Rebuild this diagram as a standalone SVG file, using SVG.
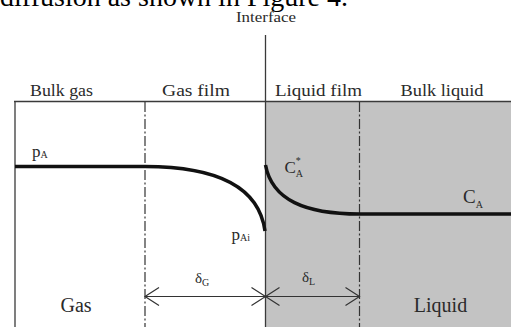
<svg xmlns="http://www.w3.org/2000/svg" width="511" height="327" viewBox="0 0 511 327">
<style>
text{font-family:"Liberation Serif","Times New Roman",serif;fill:#2a2a2a}
.frame{stroke:#3a3a3a;stroke-width:1.3;fill:none}
.dd{stroke:#333;stroke-width:1.2;stroke-dasharray:10,2.5,2,2.5;fill:none}
.prof{stroke:#111;stroke-width:3.5;fill:none;stroke-linecap:butt}
.dim{stroke:#333;stroke-width:1.2;fill:none}
.lab{font-size:17px;text-anchor:middle}
.big{font-size:20px;text-anchor:middle}
.sub{font-size:10px}
</style>
<defs>
<marker id="ah" viewBox="-15 -10 17 20" markerWidth="17" markerHeight="20" refX="0" refY="0" orient="auto-start-reverse" markerUnits="userSpaceOnUse">
<path d="M-14,-9 L0,0 L-14,9" stroke="#333" stroke-width="1.2" fill="none"/>
</marker>
</defs>
<text x="348" y="5.5" style="font-size:28px;text-anchor:end;fill:#000">diffusion as shown in Figure 4.</text>
<g id="liquid-region">
<rect x="265.5" y="101.5" width="246" height="226" fill="#c3c3c3"/>
</g>
<g id="frame">
<line class="frame" x1="14" y1="101.5" x2="511" y2="101.5"/>
<line class="frame" x1="15" y1="101" x2="15" y2="327"/>
<line class="frame" x1="265.5" y1="35" x2="265.5" y2="327"/>
<line class="dd" x1="145" y1="102" x2="145" y2="327"/>
<line class="dd" x1="359.5" y1="102" x2="359.5" y2="327"/>
</g>
<g id="labels">
<text x="266" y="22" style="font-size:14.5px;text-anchor:middle" textLength="60" lengthAdjust="spacingAndGlyphs">Interface</text>
<text class="lab" x="61.5" y="96" textLength="63" lengthAdjust="spacingAndGlyphs">Bulk gas</text>
<text class="lab" x="196" y="96" textLength="68" lengthAdjust="spacingAndGlyphs">Gas film</text>
<text class="lab" x="318.5" y="96" textLength="87" lengthAdjust="spacingAndGlyphs">Liquid film</text>
<text class="lab" x="442" y="96" textLength="83" lengthAdjust="spacingAndGlyphs">Bulk liquid</text>
<text class="big" x="76" y="312">Gas</text>
<text class="big" x="440.5" y="312">Liquid</text>
</g>
<g id="profiles">
<path class="prof" d="M15,166.5 L145,166.5 C205,166.5 258,180 265,231"/>
<path class="prof" d="M265.5,165 C272,200 305,214 359.5,214 L511,214"/>
</g>
<g id="profile-labels">
<text x="32" y="157" style="font-size:17px">p<tspan class="sub" dy="1">A</tspan></text>
<text x="231.5" y="240" style="font-size:17px">p<tspan class="sub" dy="1">Ai</tspan></text>
<text x="284.5" y="173" style="font-size:17px">C<tspan class="sub" dx="0" dy="-9">*</tspan><tspan class="sub" dx="-5" dy="13">A</tspan></text>
<text x="463" y="203" style="font-size:19px">C<tspan class="sub" dy="5">A</tspan></text>
<text x="195" y="283" style="font-size:15px">δ<tspan class="sub" dy="3">G</tspan></text>
<text x="302" y="282" style="font-size:15px">δ<tspan class="sub" dy="3">L</tspan></text>
</g>
<g id="connectors">
<line class="dim" x1="145" y1="296.5" x2="265.5" y2="296.5" marker-start="url(#ah)" marker-end="url(#ah)"/>
<line class="dim" x1="265.5" y1="296.5" x2="359.5" y2="296.5" marker-start="url(#ah)" marker-end="url(#ah)"/>
</g>
</svg>
